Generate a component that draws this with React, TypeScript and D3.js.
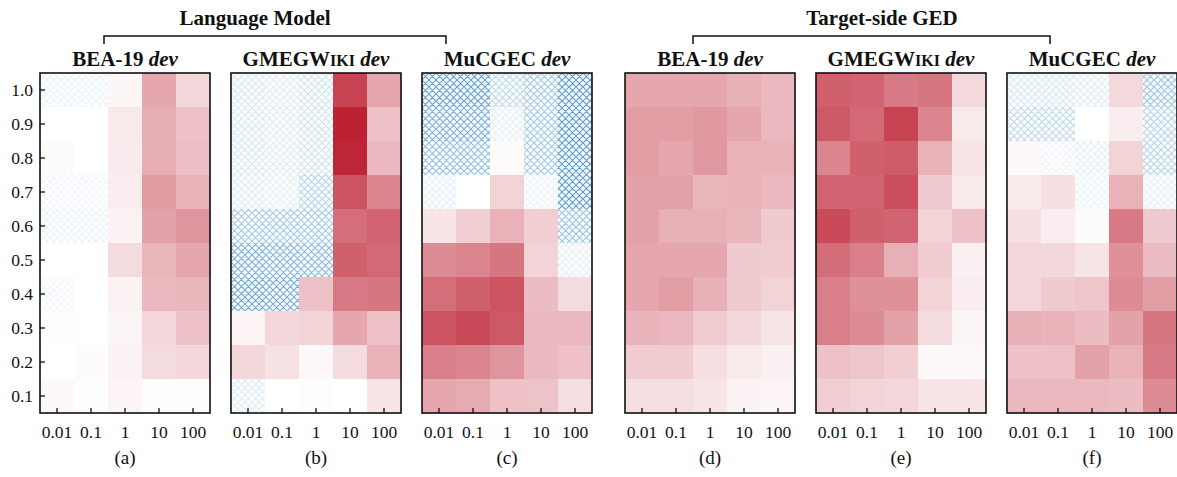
import { useEffect, useRef } from 'react';
import * as d3 from 'd3';

// x categories (weight) and y categories (ratio), rows listed top (1.0) to bottom (0.1)
const weights = ["0.01", "0.1", "1", "10", "100"];
const ratios = ["1.0", "0.9", "0.8", "0.7", "0.6", "0.5", "0.4", "0.3", "0.2", "0.1"];

// signed scores: positive -> red, negative -> blue hatch
const lmBea = [
  [-0.05, -0.05, 0.04, 0.40, 0.18],
  [0.0, 0.0, 0.10, 0.37, 0.28],
  [0.02, 0.0, 0.09, 0.37, 0.29],
  [-0.02, -0.02, 0.08, 0.45, 0.35],
  [-0.05, -0.05, 0.06, 0.42, 0.48],
  [0.0, 0.0, 0.16, 0.33, 0.40],
  [-0.02, 0.0, 0.06, 0.32, 0.33],
  [0.01, 0.0, 0.04, 0.18, 0.28],
  [0.0, 0.02, 0.06, 0.16, 0.18],
  [0.03, 0.01, 0.05, 0.01, 0.01],
];
const lmGmeg = [
  [-0.15, -0.12, -0.2, 0.85, 0.40],
  [-0.15, -0.12, -0.2, 1.0, 0.28],
  [-0.15, -0.12, -0.2, 0.98, 0.32],
  [-0.12, -0.10, -0.35, 0.78, 0.55],
  [-0.45, -0.45, -0.45, 0.65, 0.70],
  [-0.7, -0.65, -0.6, 0.72, 0.68],
  [-0.8, -0.75, 0.28, 0.60, 0.62],
  [0.05, 0.18, 0.20, 0.40, 0.28],
  [0.18, 0.13, 0.03, 0.16, 0.35],
  [-0.12, 0.0, 0.01, 0.0, 0.12],
];
const lmMucgec = [
  [-0.85, -0.85, -0.3, -0.45, -0.9],
  [-0.7, -0.7, -0.08, -0.45, -0.9],
  [-0.55, -0.55, 0.02, -0.45, -0.9],
  [-0.08, 0.0, 0.2, -0.05, -0.9],
  [0.12, 0.22, 0.35, 0.22, -0.5],
  [0.52, 0.55, 0.62, 0.2, -0.08],
  [0.65, 0.72, 0.78, 0.30, 0.16],
  [0.78, 0.82, 0.75, 0.32, 0.32],
  [0.58, 0.55, 0.48, 0.31, 0.28],
  [0.40, 0.38, 0.28, 0.27, 0.15],
];
const gedBea = [
  [0.40, 0.40, 0.40, 0.36, 0.32],
  [0.44, 0.44, 0.46, 0.40, 0.32],
  [0.44, 0.40, 0.46, 0.35, 0.35],
  [0.42, 0.42, 0.33, 0.35, 0.32],
  [0.42, 0.36, 0.36, 0.33, 0.24],
  [0.40, 0.40, 0.40, 0.24, 0.23],
  [0.40, 0.44, 0.36, 0.24, 0.20],
  [0.34, 0.32, 0.23, 0.18, 0.12],
  [0.23, 0.23, 0.15, 0.10, 0.07],
  [0.15, 0.15, 0.12, 0.06, 0.05],
];
const gedGmeg = [
  [0.72, 0.70, 0.60, 0.62, 0.17],
  [0.75, 0.68, 0.85, 0.55, 0.10],
  [0.55, 0.72, 0.74, 0.35, 0.12],
  [0.70, 0.70, 0.80, 0.24, 0.10],
  [0.82, 0.72, 0.70, 0.20, 0.28],
  [0.66, 0.58, 0.36, 0.23, 0.07],
  [0.58, 0.50, 0.50, 0.20, 0.08],
  [0.58, 0.52, 0.42, 0.16, 0.04],
  [0.28, 0.26, 0.22, 0.03, 0.03],
  [0.22, 0.20, 0.18, 0.12, 0.12],
];
const gedMucgec = [
  [-0.15, -0.15, -0.12, 0.17, -0.5],
  [-0.3, -0.3, 0.0, 0.08, -0.35],
  [0.03, -0.03, -0.08, 0.20, -0.35],
  [0.1, 0.14, -0.05, 0.35, -0.08],
  [0.14, 0.08, 0.02, 0.60, 0.24],
  [0.18, 0.18, 0.12, 0.50, 0.30],
  [0.18, 0.24, 0.26, 0.52, 0.44],
  [0.36, 0.34, 0.30, 0.42, 0.62],
  [0.28, 0.28, 0.42, 0.35, 0.60],
  [0.32, 0.32, 0.32, 0.30, 0.52],
];

const panelData = [lmBea, lmGmeg, lmMucgec, gedBea, gedGmeg, gedMucgec];
const panelNames = ["BEA-19", "GMEG", "MuCGEC", "BEA-19", "GMEG", "MuCGEC"];
const subLabels = ["(a)", "(b)", "(c)", "(d)", "(e)", "(f)"];
const groupTitles = ["Language Model", "Target-side GED"];

const FONT = "'Liberation Serif', 'Times New Roman', serif";

const App = () => {
  const svgRef = useRef(null);

  useEffect(() => {
    const W = 1177, H = 477;
    const svg = d3.select(svgRef.current)
      .attr("width", W)
      .attr("height", H)
      .style("position", "absolute")
      .style("left", 0)
      .style("top", 0)
      .style("font-family", FONT);
    svg.selectAll("*").remove();

    const defs = svg.append("defs");
    const pat = defs.append("pattern")
      .attr("id", "hatch")
      .attr("patternUnits", "userSpaceOnUse")
      .attr("width", 7)
      .attr("height", 7);
    pat.append("path")
      .attr("d", "M0,0 L7,7 M7,0 L0,7 M-1,6 L1,8 M6,-1 L8,1 M-1,1 L1,-1 M6,8 L8,6")
      .attr("stroke", "#4b92c9")
      .attr("stroke-width", 1.1);

    const lefts = [40, 231, 422, 625, 816, 1007];
    const top = 73, pw = 170, ph = 340;

    const red = d3.interpolateRgb("#ffffff", "#bd2233");
    const blueBg = d3.interpolateRgb("#ffffff", "#e3eef7");

    const x = d3.scaleBand().domain(weights).range([0, pw]);
    const y = d3.scaleBand().domain(ratios).range([0, ph]);

    panelData.forEach((data, p) => {
      const g = svg.append("g").attr("transform", `translate(${lefts[p]},${top})`);

      const cells = data.flatMap((row, i) => row.map((v, j) => ({ v, r: ratios[i], w: weights[j] })));

      g.selectAll("rect.cell")
        .data(cells)
        .enter().append("rect")
        .attr("class", "cell")
        .attr("x", d => x(d.w))
        .attr("y", d => y(d.r))
        .attr("width", x.bandwidth() + 0.5)
        .attr("height", y.bandwidth() + 0.5)
        .attr("fill", d => d.v >= 0 ? red(Math.min(1, d.v)) : blueBg(Math.min(1, -d.v) * 0.4));

      g.selectAll("rect.hatch")
        .data(cells.filter(d => d.v < 0))
        .enter().append("rect")
        .attr("class", "hatch")
        .attr("x", d => x(d.w))
        .attr("y", d => y(d.r))
        .attr("width", x.bandwidth())
        .attr("height", y.bandwidth())
        .attr("fill", "url(#hatch)")
        .attr("opacity", d => Math.min(1, 0.07 + Math.abs(d.v) * 0.9));

      // bottom ticks (inward)
      g.selectAll("line.xt")
        .data(weights)
        .enter().append("line")
        .attr("x1", d => x(d) + x.bandwidth() / 2)
        .attr("x2", d => x(d) + x.bandwidth() / 2)
        .attr("y1", ph)
        .attr("y2", ph - 5)
        .attr("stroke", "#111")
        .attr("stroke-width", 1.3);

      g.selectAll("text.xl")
        .data(weights)
        .enter().append("text")
        .attr("x", d => x(d) + x.bandwidth() / 2)
        .attr("y", ph + 25)
        .attr("text-anchor", "middle")
        .attr("font-size", 17.5)
        .attr("fill", "#111")
        .text(d => d);

      if (p === 0) {
        g.selectAll("line.yt")
          .data(ratios)
          .enter().append("line")
          .attr("x1", 0)
          .attr("x2", 5)
          .attr("y1", d => y(d) + y.bandwidth() / 2)
          .attr("y2", d => y(d) + y.bandwidth() / 2)
          .attr("stroke", "#111")
          .attr("stroke-width", 1.3);
        g.selectAll("text.yl")
          .data(ratios)
          .enter().append("text")
          .attr("x", -7)
          .attr("y", d => y(d) + y.bandwidth() / 2 + 6)
          .attr("text-anchor", "end")
          .attr("font-size", 17.5)
          .attr("fill", "#111")
          .text(d => d);
      }

      g.append("rect")
        .attr("width", pw)
        .attr("height", ph)
        .attr("fill", "none")
        .attr("stroke", "#111")
        .attr("stroke-width", 1.6);

      // panel title
      const t = g.append("text")
        .attr("x", pw / 2)
        .attr("y", -7)
        .attr("text-anchor", "middle")
        .attr("font-size", 21)
        .attr("font-weight", "bold")
        .attr("fill", "#111");
      t.append("tspan").text(panelNames[p]);
      if (panelNames[p] === "GMEG") {
        t.append("tspan").text("W");
        t.append("tspan").attr("font-size", 16).text("IKI");
      }
      t.append("tspan").attr("font-style", "italic").text(" dev");

      g.append("text")
        .attr("x", pw / 2)
        .attr("y", ph + 51)
        .attr("text-anchor", "middle")
        .attr("font-size", 19)
        .attr("fill", "#111")
        .text(subLabels[p]);
    });

    // group brackets
    const brackets = [[104, 446, 255], [693, 1050, 882]];
    brackets.forEach(([x0, x1, cx], i) => {
      svg.append("path")
        .attr("d", `M${x0},44 V36 H${x1} V44`)
        .attr("fill", "none")
        .attr("stroke", "#111")
        .attr("stroke-width", 1.5);
      svg.append("text")
        .attr("x", cx)
        .attr("y", 25)
        .attr("text-anchor", "middle")
        .attr("font-size", 21)
        .attr("font-weight", "bold")
        .attr("fill", "#111")
        .text(groupTitles[i]);
    });
  }, []);

  return <svg ref={svgRef}></svg>;
};

export default App;
